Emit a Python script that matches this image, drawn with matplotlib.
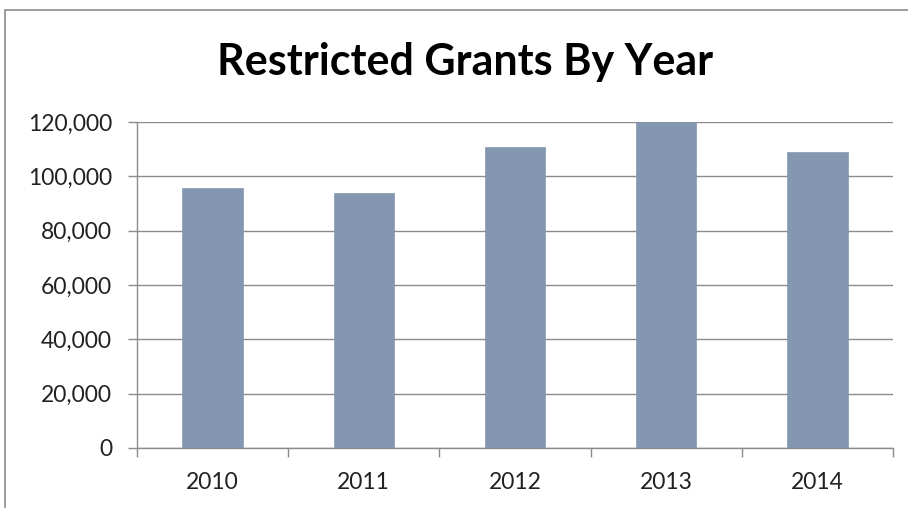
import matplotlib
matplotlib.use("Agg")
import matplotlib.pyplot as plt
from matplotlib.patches import Rectangle
from matplotlib.ticker import FuncFormatter, FixedLocator

years = ["2010", "2011", "2012", "2013", "2014"]
grants = [95600, 93750, 110700, 120000, 108800]
y_ticks = [0, 20000, 40000, 60000, 80000, 100000, 120000]

W, H, DPI = 908, 508, 100
fig = plt.figure(figsize=(W / DPI, H / DPI), dpi=DPI)
fig.patch.set_facecolor("white")

# outer chart frame, running off the right and bottom edges
fig.patches.append(Rectangle((5 / W, -0.1), 1.2, 1.1 - 10 / H,
                             transform=fig.transFigure, fill=False,
                             edgecolor="#8c8c8c", linewidth=1.2))

ax = fig.add_axes([137 / W, 1 - 448 / H, 756 / W, 326 / H])
grid_c = "#8c8c8c"
font = "Lato"

x = list(range(len(years)))
ax.bar(x, grants, width=0.4, color="#8497B0", edgecolor="#8497B0",
       linewidth=0.5, zorder=3)

ax.set_xlim(-0.5, len(years) - 0.5)
ax.set_ylim(0, 120000)
ax.set_yticks(y_ticks)
ax.yaxis.set_major_formatter(FuncFormatter(lambda v, p: f"{int(v):,}"))
ax.grid(axis="y", color=grid_c, linewidth=1.0, zorder=0)

ax.set_xticks(x)
ax.set_xticklabels(years)
ax.xaxis.set_minor_locator(FixedLocator([i - 0.5 for i in range(len(years) + 1)]))
ax.tick_params(axis="x", which="major", length=0, pad=17)
ax.tick_params(axis="x", which="minor", length=6.5, color=grid_c, width=1.0)
ax.tick_params(axis="y", length=6.5, color=grid_c, width=1.0, pad=11.5)

for lab in ax.get_xticklabels() + ax.get_yticklabels():
    lab.set_fontfamily(font)
    lab.set_fontsize(16.5)
    lab.set_color("#222222")

for s in ("top", "right"):
    ax.spines[s].set_visible(False)
for s in ("left", "bottom"):
    ax.spines[s].set_color(grid_c)
    ax.spines[s].set_linewidth(1.0)

fig.text(465 / W, 1 - 62 / H, "Restricted Grants By Year", ha="center",
         va="center", fontsize=31, fontweight="bold", fontfamily=font,
         color="black")

fig.savefig("out.png", dpi=DPI)
